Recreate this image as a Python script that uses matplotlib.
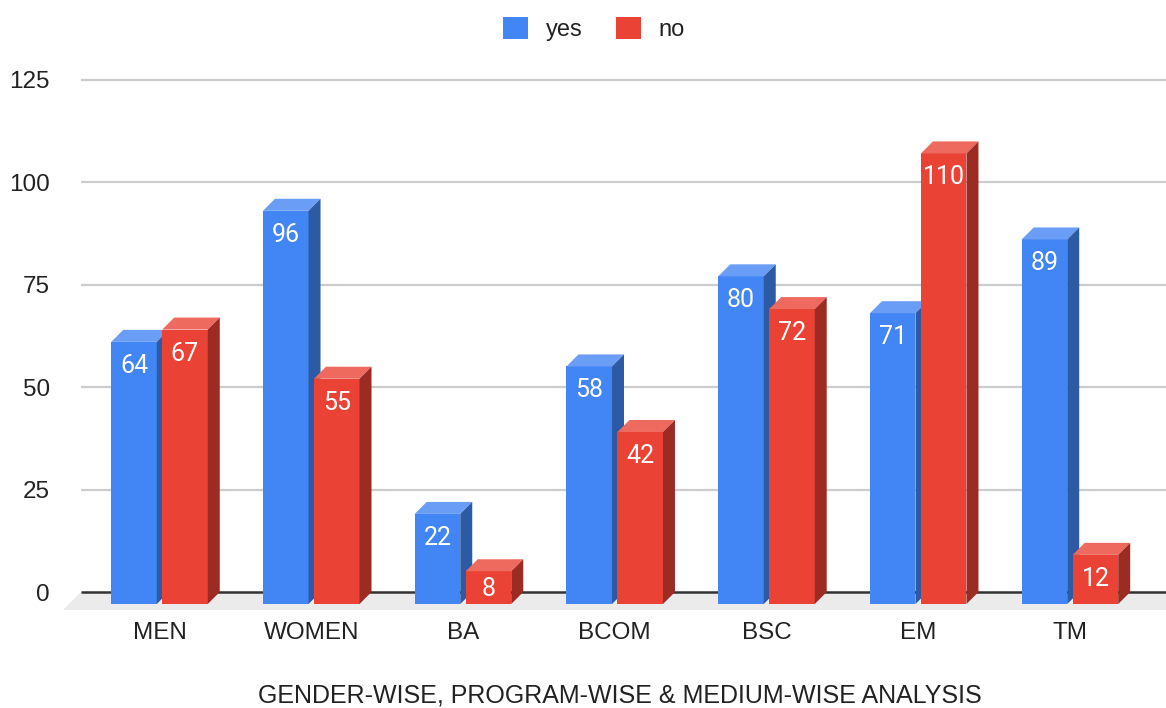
import matplotlib
matplotlib.use("Agg")
import matplotlib.pyplot as plt
from matplotlib.patches import Polygon, Patch

categories = ["MEN", "WOMEN", "BA", "BCOM", "BSC", "EM", "TM"]
yes_vals = [64, 96, 22, 58, 80, 71, 89]
no_vals = [67, 55, 8, 42, 72, 110, 12]
y_ticks = [0, 25, 50, 75, 100, 125]

plt.rcParams["font.family"] = ["Liberation Sans", "DejaVu Sans"]

# face colours: front, top, side
BLUE = ("#4285f4", "#6a9ef6", "#2c5aa5")
RED = ("#ea4335", "#ee6a5e", "#9b2b23")

W, H = 1166, 708
fig = plt.figure(figsize=(W / 100, H / 100), dpi=100)
ax = fig.add_axes([63 / W, (H - 612.5) / H, 1103 / W, (612.5 - 71.8) / H])
xlim = (-0.636, 6.633)
ylim = (-5, 127)
ax.set_xlim(*xlim)
ax.set_ylim(*ylim)

# pixel -> data unit scales
sx = 1103 / (xlim[1] - xlim[0])
sy = (612.5 - 71.8) / (ylim[1] - ylim[0])
dx, dy = 12 / sx, 12 / sy          # bar depth
fdx, fdy = 18 / sx, 18 / sy        # floor depth
grid_x0 = xlim[0] + fdx

# floor
floor = Polygon([(grid_x0, 0), (xlim[1] + fdx, 0), (xlim[1], -fdy), (xlim[0], -fdy)],
                closed=True, facecolor="#ebebeb", edgecolor="none", zorder=0, clip_on=False)
ax.add_patch(floor)

# gridlines + baseline
for t in y_ticks[1:]:
    ax.hlines(t, grid_x0, xlim[1], color="#cccccc", lw=1.6, zorder=1)
ax.hlines(0, grid_x0, xlim[1], color="#333333", lw=1.8, zorder=1)

bar_w = 0.30


def draw_bar(x0, v, cols, z):
    front, top, side = cols
    # front face sits shifted down/left of the back plane
    fb, ft = -dy, v - dy
    ax.add_patch(Polygon([(x0, fb), (x0 + bar_w, fb), (x0 + bar_w, ft), (x0, ft)],
                         facecolor=front, edgecolor="none", zorder=z))
    ax.add_patch(Polygon([(x0, ft), (x0 + dx, v), (x0 + bar_w + dx, v), (x0 + bar_w, ft)],
                         facecolor=top, edgecolor="none", zorder=z))
    ax.add_patch(Polygon([(x0 + bar_w, fb), (x0 + bar_w + dx, 0), (x0 + bar_w + dx, v), (x0 + bar_w, ft)],
                         facecolor=side, edgecolor="none", zorder=z))
    h_px = v * sy
    off = min(24, h_px / 2 + 1)
    ax.annotate(str(v), xy=(x0 + bar_w / 2, ft), xytext=(0, -off * 0.72),
                textcoords="offset points", ha="center", va="center",
                color="white", fontsize=18, family=["Roboto", "DejaVu Sans"], zorder=z + 1)


z = 2
for i, (y, n) in enumerate(zip(yes_vals, no_vals)):
    draw_bar(i - 0.318, y, BLUE, z)
    draw_bar(i + 0.018, n, RED, z + 2)
    z += 4

ax.set_yticks(y_ticks)
ax.set_xticks(range(len(categories)))
ax.set_xticklabels(categories)
ax.tick_params(axis="both", length=0, labelsize=17.5, labelcolor="#222222")
ax.tick_params(axis="y", pad=9.5)
ax.tick_params(axis="x", pad=7)
for s in ax.spines.values():
    s.set_visible(False)

fig.text(620 / W, 1 - 696 / H, "GENDER-WISE, PROGRAM-WISE & MEDIUM-WISE ANALYSIS",
         ha="center", va="center", fontsize=18, color="#222222")

handles = [Patch(facecolor=BLUE[0], label="yes"), Patch(facecolor=RED[0], label="no")]
fig.legend(handles=handles, loc="center", bbox_to_anchor=(594 / W, 1 - 29 / H), ncol=2,
           frameon=False, fontsize=17, handlelength=1.05, handleheight=1.05,
           handletextpad=0.75, columnspacing=1.4, labelcolor="#222222")

fig.savefig("out.png", dpi=100)
